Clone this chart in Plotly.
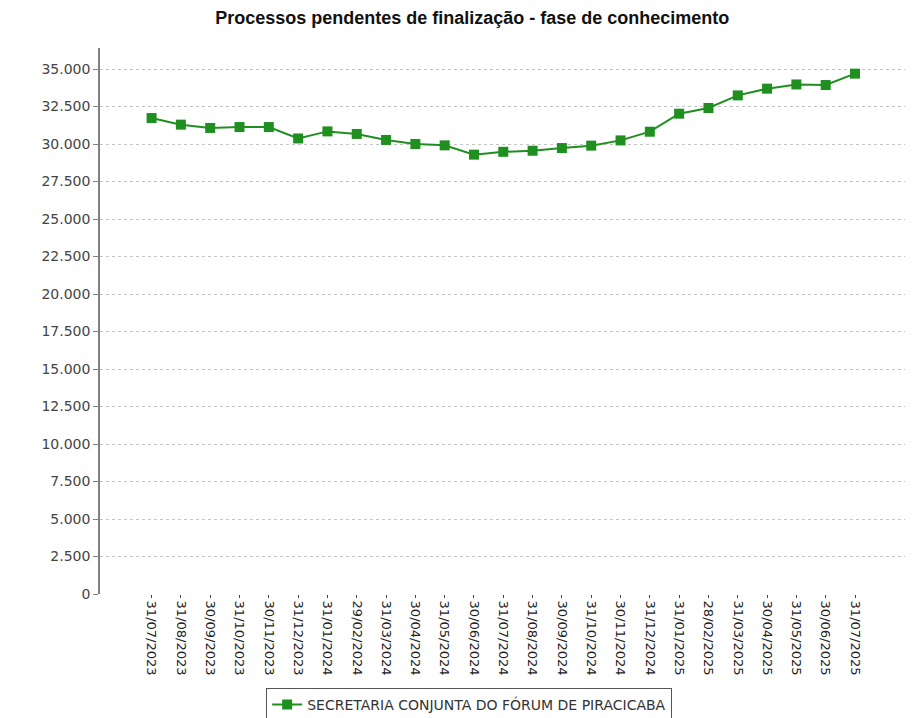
import plotly.graph_objects as go

categories = [
    "31/07/2023", "31/08/2023", "30/09/2023", "31/10/2023", "30/11/2023", "31/12/2023",
    "31/01/2024", "29/02/2024", "31/03/2024", "30/04/2024", "31/05/2024", "30/06/2024",
    "31/07/2024", "31/08/2024", "30/09/2024", "31/10/2024", "30/11/2024", "31/12/2024",
    "31/01/2025", "28/02/2025", "31/03/2025", "30/04/2025", "31/05/2025", "30/06/2025",
    "31/07/2025",
]
values = [
    31730, 31290, 31070, 31130, 31130, 30370,
    30840, 30670, 30270, 30000, 29910, 29290,
    29480, 29550, 29730, 29890, 30240, 30820,
    32020, 32400, 33240, 33690, 33970, 33930,
    34690,
]
series_name = "SECRETARIA CONJUNTA DO FÓRUM DE PIRACICABA"
title_text = "Processos pendentes de finalização - fase de conhecimento"
y_tick_values = [0, 2500, 5000, 7500, 10000, 12500, 15000, 17500, 20000,
                 22500, 25000, 27500, 30000, 32500, 35000]
y_tick_labels = ["0", "2.500", "5.000", "7.500", "10.000", "12.500", "15.000", "17.500",
                 "20.000", "22.500", "25.000", "27.500", "30.000", "32.500", "35.000"]

green = "#1f8f1f"

fig = go.Figure()
fig.add_trace(go.Scatter(
    x=categories, y=values, name=series_name, mode="lines+markers",
    line=dict(color=green, width=2),
    marker=dict(symbol="square", size=10, color=green),
    showlegend=True,
))

# page body has an 8px margin, so the figure is sized 8px smaller
fig.update_layout(
    width=905, height=710,
    margin=dict(l=92, r=7, t=40, b=124, autoexpand=False),
    paper_bgcolor="white", plot_bgcolor="white",
    font=dict(family="DejaVu Sans", size=13, color="#333"),
    title=dict(text=title_text, x=0.513, xanchor="center", y=0.987, yanchor="middle",
               yref="container",
               font=dict(family="Liberation Sans", size=18, color="#111", weight="bold")),
    showlegend=True,
    legend=dict(orientation="h", x=0.458, xanchor="center", y=-0.172, yanchor="top",
                bordercolor="#555", borderwidth=1, bgcolor="white",
                font=dict(family="DejaVu Sans", size=14, color="#333"),
                itemwidth=30),
)

fig.update_xaxes(
    type="category", range=[-1.76, 25.74],
    tickangle=90, tickfont=dict(family="DejaVu Sans", size=13, color="#222"),
    showgrid=False, showline=False, zeroline=False,
    ticks="outside", ticklen=3, tickcolor="#444",
)
fig.update_yaxes(
    range=[0, 36400], tickvals=y_tick_values, ticktext=y_tick_labels,
    tickfont=dict(family="DejaVu Sans", size=14, color="#444"),
    showgrid=True, gridcolor="#c4c4c4", griddash="3px,3px", gridwidth=1,
    showline=True, linecolor="#808080", linewidth=1.5,
    ticks="outside", ticklen=5, tickcolor="#808080",
    zeroline=False,
)

fig.write_html("out.html")
